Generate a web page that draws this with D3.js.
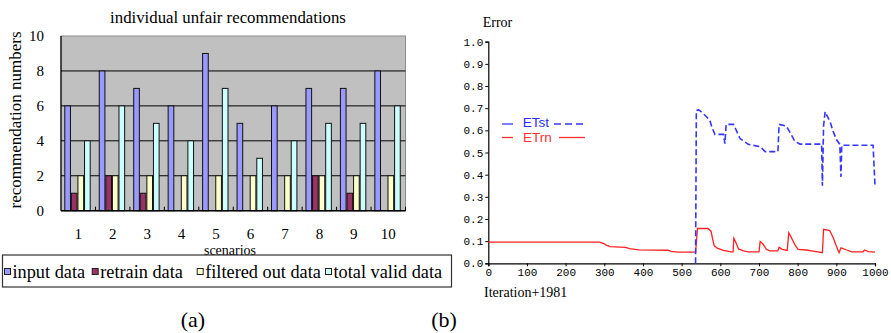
<!DOCTYPE html>
<html><head><meta charset="utf-8">
<script src="https://cdn.jsdelivr.net/npm/d3@7"></script>
<style>body{margin:0;background:#fff}svg{display:block}</style>
</head><body>
<svg id="c" width="891" height="333"></svg>
<script>
// ---------- data: chart (a) ----------
const scenarios = ["1","2","3","4","5","6","7","8","9","10"];
const seriesNames = ["input data","retrain data","filtered out data","total valid data"];
const seriesColors = ["#9999ff","#993366","#ffffcc","#ccffff"];
const inputData = [6,8,7,6,9,5,6,7,7,8];
const retrainData = [1,2,1,0,0,0,0,2,1,0];
const filteredData = [2,2,2,2,2,2,2,2,2,2];
const totalValidData = [4,6,5,4,7,3,4,5,5,6];
const countTicks = [0,2,4,6,8,10];

// ---------- data: chart (b) ----------
const iterTicks = [0,100,200,300,400,500,600,700,800,900,1000];
const errorTicks = [0,0.1,0.2,0.3,0.4,0.5,0.6,0.7,0.8,0.9,1.0];
const etrn = [[0,0.096],[288,0.096],[300,0.088],[305,0.082],[315,0.075],[355,0.072],[365,0.066],[390,0.061],[465,0.059],[472,0.054],[490,0.05],[536,0.05],[541,0.157],[568,0.157],[576,0.145],[580,0.11],[584,0.08],[592,0.068],[608,0.058],[628,0.052],[633,0.052],[635,0.113],[640,0.095],[647,0.065],[660,0.056],[672,0.052],[700,0.052],[703,0.098],[710,0.088],[719,0.063],[728,0.056],[749,0.056],[752,0.072],[760,0.063],[773,0.058],[777,0.138],[782,0.122],[793,0.083],[801,0.063],[823,0.06],[840,0.055],[864,0.048],[867,0.153],[883,0.148],[892,0.115],[900,0.078],[907,0.048],[912,0.07],[927,0.06],[940,0.052],[969,0.052],[973,0.06],[983,0.053],[1000,0.05]];
const etst = [[536,0],[538,0.69],[544,0.692],[552,0.682],[565,0.66],[573,0.645],[578,0.615],[586,0.582],[608,0.582],[612,0.54],[615,0.627],[634,0.627],[640,0.605],[651,0.563],[672,0.537],[703,0.526],[716,0.504],[749,0.504],[752,0.627],[770,0.62],[778,0.598],[793,0.55],[806,0.538],[862,0.538],[864,0.35],[867,0.62],[871,0.684],[884,0.638],[892,0.594],[901,0.556],[909,0.537],[912,0.39],[914,0.533],[995,0.533],[1000,0.35]];

const svg = d3.select("#c");
const serif = "'Liberation Serif','Times New Roman',serif";
const mono = "'Liberation Mono','DejaVu Sans Mono',monospace";
const sans = "'Liberation Sans',Arial,sans-serif";

// ================= chart (a) =================
const A = {left:61, right:405.5, top:36, bottom:210.7};
const x0 = d3.scaleBand().domain(scenarios).range([A.left, A.right]);
const x1 = d3.scaleBand().domain(seriesNames).range([3.8, 29.2]).paddingInner(0.14);
const yA = d3.scaleLinear().domain([0,10]).range([A.bottom, A.top]);
const series = [inputData, retrainData, filteredData, totalValidData];

svg.append("rect").attr("x",A.left).attr("y",A.top)
  .attr("width",A.right-A.left).attr("height",A.bottom-A.top)
  .attr("fill","#c0c0c0").attr("stroke","#8a8a8a").attr("stroke-width",1);

svg.append("g").selectAll("line").data(countTicks.filter(t=>t>0 && t<10)).join("line")
  .attr("x1",A.left).attr("x2",A.right).attr("y1",d=>yA(d)).attr("y2",d=>yA(d))
  .attr("stroke","#000").attr("stroke-width",1);

const groups = svg.append("g").selectAll("g").data(scenarios).join("g")
  .attr("transform",s=>`translate(${x0(s)},0)`);
groups.selectAll("rect")
  .data((s,i)=>seriesNames.map((n,k)=>({n,k,v:series[k][i]})).filter(d=>d.v>0))
  .join("rect")
  .attr("x",d=>x1(d.n)).attr("width",x1.bandwidth())
  .attr("y",d=>yA(d.v)).attr("height",d=>yA(0)-yA(d.v))
  .attr("fill",d=>seriesColors[d.k]).attr("stroke","#111").attr("stroke-width",1);

svg.append("line").attr("x1",A.left).attr("x2",A.left).attr("y1",A.top).attr("y2",A.bottom)
  .attr("stroke","#000").attr("stroke-width",1.2);
svg.append("line").attr("x1",A.left).attr("x2",A.right).attr("y1",yA(0)).attr("y2",yA(0))
  .attr("stroke","#000").attr("stroke-width",1.6);
svg.append("g").selectAll("line").data(scenarios).join("line")
  .attr("x1",s=>x0(s)+x0.bandwidth()).attr("x2",s=>x0(s)+x0.bandwidth())
  .attr("y1",yA(0)-4).attr("y2",yA(0)).attr("stroke","#000");

const yAxisA = svg.append("g").attr("transform",`translate(${A.left},0)`)
  .call(d3.axisLeft(yA).tickValues(countTicks).tickSize(0).tickPadding(17));
yAxisA.select(".domain").remove();
yAxisA.selectAll("text").style("font-family",serif).style("font-size","15px").attr("fill","#000");

svg.append("g").selectAll("text").data(scenarios).join("text")
  .attr("x",s=>x0(s)+x0.bandwidth()/2).attr("y",239)
  .attr("text-anchor","middle").style("font-family",serif).style("font-size","15px").text(s=>s);

svg.append("text").attr("x",230).attr("y",254.5).attr("text-anchor","middle")
  .style("font-family",serif).style("font-size","14px").text("scenarios");
svg.append("text").attr("x",228).attr("y",23).attr("text-anchor","middle")
  .style("font-family",serif).style("font-size","16.8px").text("individual unfair recommendations");
svg.append("text").attr("transform","translate(20.5,120) rotate(-90)").attr("text-anchor","middle")
  .style("font-family",serif).style("font-size","17px").text("recommendation numbers");

// legend (a)
svg.append("rect").attr("x",2.5).attr("y",255).attr("width",449).attr("height",32)
  .attr("fill","#fff").attr("stroke","#333").attr("stroke-width",1.2);
const legX = [4,91.7,196.7,325];
const lg = svg.append("g").selectAll("g").data(seriesNames).join("g")
  .attr("transform",(d,i)=>`translate(${legX[i]},0)`);
lg.append("rect").attr("x",0.5).attr("y",268.5).attr("width",6).attr("height",6)
  .attr("fill",(d,i)=>seriesColors[i]).attr("stroke","#222").attr("stroke-width",1);
lg.append("text").attr("x",8.5).attr("y",277.5).style("font-family",serif).style("font-size","18.3px").text(d=>d);

svg.append("text").attr("x",193).attr("y",327).attr("text-anchor","middle")
  .style("font-family",serif).style("font-size","22px").text("(a)");
svg.append("text").attr("x",444).attr("y",327).attr("text-anchor","middle")
  .style("font-family",serif).style("font-size","22px").text("(b)");

// ================= chart (b) =================
const B = {left:488.3, right:875, top:41.7, bottom:263.3};
const xB = d3.scaleLinear().domain([0,1000]).range([B.left,B.right]);
const yB = d3.scaleLinear().domain([0,1]).range([B.bottom,B.top]);

const ax = svg.append("g").attr("transform",`translate(${B.left},0)`)
  .call(d3.axisLeft(yB).tickValues(errorTicks).tickSize(3).tickPadding(2).tickFormat(d3.format(".1f")));
const bx = svg.append("g").attr("transform",`translate(0,${B.bottom})`)
  .call(d3.axisBottom(xB).tickValues(iterTicks).tickSize(3).tickPadding(2).tickFormat(d3.format("d")));
[ax,bx].forEach(g=>{
  g.select(".domain").attr("stroke","#000").attr("stroke-width",1.2);
  g.selectAll(".tick line").attr("stroke","#000");
  g.selectAll("text").style("font-family",mono).style("font-size","11px").attr("fill","#000");
});

const line = d3.line().x(d=>xB(d[0])).y(d=>yB(d[1]));
svg.append("path").datum(etrn).attr("d",line).attr("fill","none")
  .attr("stroke","#ff2020").attr("stroke-width",1.3);
svg.append("path").datum(etst).attr("d",line).attr("fill","none")
  .attr("stroke","#3535ff").attr("stroke-width",1.6).attr("stroke-dasharray","6,3");

svg.append("text").attr("x",482.7).attr("y",26.5).style("font-family",serif).style("font-size","14px").text("Error");
svg.append("text").attr("x",484).attr("y",296.5).style("font-family",serif).style("font-size","14px").text("Iteration+1981");

// legend (b)
svg.append("line").attr("x1",502).attr("x2",513).attr("y1",124).attr("y2",124).attr("stroke","#3535ff").attr("stroke-width",1.3);
svg.append("line").attr("x1",554).attr("x2",585).attr("y1",124).attr("y2",124).attr("stroke","#3535ff").attr("stroke-width",1.3).attr("stroke-dasharray","7,4");
svg.append("text").attr("x",522.7).attr("y",127).style("font-family",sans).style("font-size","13.5px").attr("fill","#2b2bff").text("ETst");
svg.append("line").attr("x1",502).attr("x2",513).attr("y1",137.5).attr("y2",137.5).attr("stroke","#ff3030").attr("stroke-width",1.3);
svg.append("line").attr("x1",559).attr("x2",585).attr("y1",137.5).attr("y2",137.5).attr("stroke","#ff3030").attr("stroke-width",1.3);
svg.append("text").attr("x",523).attr("y",142).style("font-family",sans).style("font-size","13.5px").attr("fill","#ff3030").text("ETrn");
</script>
</body></html>
